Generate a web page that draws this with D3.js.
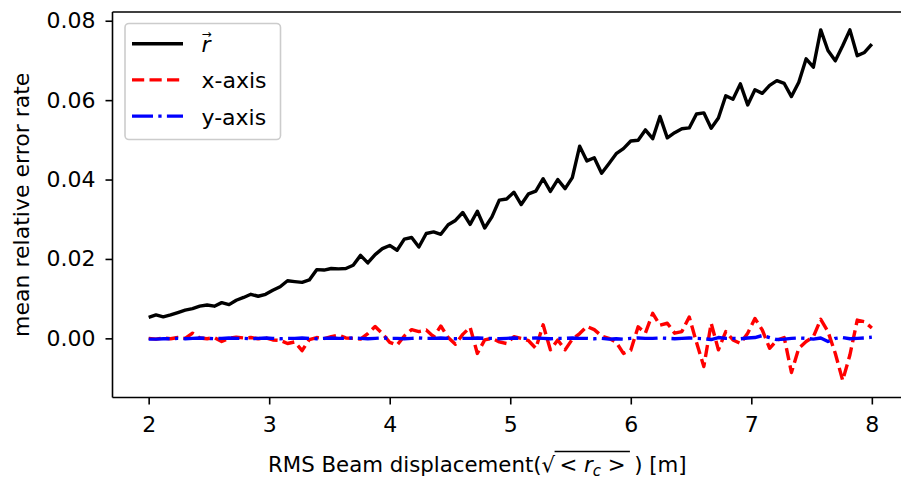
<!DOCTYPE html>
<meta charset="utf-8">
<style>
    body {
        margin: 0;
        background: #fff;
    }
    svg {
        font-family: "DejaVu Sans", sans-serif;
    }
    .tick text {
        font-size: 22px;
        fill: #000;
    }
    .tick line {
        stroke: #000;
        stroke-width: 1.6px;
    }
    .spine {
        stroke: #000;
        stroke-width: 1.6px;
    }
</style>

<body>
    <script src="https://d3js.org/d3.v7.min.js"></script>
    <script>
        // displacement grid (100 samples, 2 .. 8)
        var displacement = [
            2.000, 2.061, 2.121, 2.182, 2.242, 2.303, 2.364, 2.424, 2.485, 2.545,
            2.606, 2.667, 2.727, 2.788, 2.848, 2.909, 2.970, 3.030, 3.091, 3.152,
            3.212, 3.273, 3.333, 3.394, 3.455, 3.515, 3.576, 3.636, 3.697, 3.758,
            3.818, 3.879, 3.939, 4.000, 4.061, 4.121, 4.182, 4.242, 4.303, 4.364,
            4.424, 4.485, 4.545, 4.606, 4.667, 4.727, 4.788, 4.848, 4.909, 4.970,
            5.030, 5.091, 5.152, 5.212, 5.273, 5.333, 5.394, 5.455, 5.515, 5.576,
            5.636, 5.697, 5.758, 5.818, 5.879, 5.939, 6.000, 6.061, 6.121, 6.182,
            6.242, 6.303, 6.364, 6.424, 6.485, 6.545, 6.606, 6.667, 6.727, 6.788,
            6.848, 6.909, 6.970, 7.030, 7.091, 7.152, 7.212, 7.273, 7.333, 7.394,
            7.455, 7.515, 7.576, 7.636, 7.697, 7.758, 7.818, 7.879, 7.939, 8.000
        ];
        var errR = [
            0.0053, 0.0059, 0.0054, 0.0059, 0.0065, 0.0071, 0.0075, 0.0081, 0.0084, 0.0081,
            0.0090, 0.0085, 0.0096, 0.0103, 0.0111, 0.0106, 0.0111, 0.0121, 0.0130, 0.0145,
            0.0143, 0.0141, 0.0147, 0.0173, 0.0172, 0.0176, 0.0175, 0.0176, 0.0184, 0.0209,
            0.0190, 0.0211, 0.0226, 0.0234, 0.0222, 0.0250, 0.0254, 0.0230, 0.0264, 0.0268,
            0.0262, 0.0286, 0.0297, 0.0317, 0.0287, 0.0320, 0.0278, 0.0306, 0.0348, 0.0351,
            0.0368, 0.0337, 0.0364, 0.0371, 0.0402, 0.0370, 0.0400, 0.0377, 0.0405, 0.0484,
            0.0447, 0.0455, 0.0416, 0.0440, 0.0465, 0.0478, 0.0497, 0.0499, 0.0525, 0.0503,
            0.0559, 0.0505, 0.0518, 0.0528, 0.0530, 0.0565, 0.0568, 0.0529, 0.0555, 0.0611,
            0.0602, 0.0641, 0.0588, 0.0626, 0.0617, 0.0637, 0.0649, 0.0642, 0.0609, 0.0645,
            0.0704, 0.0683, 0.0777, 0.0725, 0.0699, 0.0737, 0.0777, 0.0712, 0.0720, 0.0741
        ];
        var errX = [
            0.0000, -0.0002, 0.0001, -0.0001, 0.0002, 0.0000, 0.0013, 0.0001, -0.0001, 0.0002,
            -0.0008, 0.0000, 0.0003, 0.0001, 0.0002, -0.0001, 0.0001, -0.0004, -0.0005, -0.0013,
            -0.0009, -0.0031, -0.0003, 0.0002, -0.0001, 0.0004, 0.0008, 0.0001, 0.0000, -0.0002,
            0.0012, 0.0030, 0.0012, -0.0010, -0.0017, 0.0006, 0.0022, 0.0017, 0.0021, 0.0004,
            0.0031, 0.0002, -0.0015, 0.0010, 0.0028, -0.0038, -0.0004, 0.0000, -0.0009, -0.0013,
            0.0004, 0.0000, -0.0006, -0.0025, 0.0034, -0.0029, -0.0004, -0.0029, -0.0002, 0.0012,
            0.0030, 0.0022, 0.0006, 0.0000, -0.0010, -0.0038, -0.0030, 0.0029, 0.0013, 0.0063,
            0.0033, 0.0038, 0.0013, 0.0017, 0.0054, -0.0010, -0.0071, 0.0038, -0.0029, 0.0017,
            -0.0004, -0.0013, 0.0013, 0.0050, 0.0021, -0.0025, -0.0005, 0.0002, -0.0086, -0.0025,
            -0.0008, 0.0004, 0.0048, 0.0017, -0.0038, -0.0106, -0.0042, 0.0046, 0.0042, 0.0026
        ];
        var errY = [
            -0.0002, -0.0002, -0.0001, -0.0001, 0.0000, -0.0001, 0.0000, 0.0001, 0.0000, -0.0001,
            0.0000, 0.0001, 0.0000, 0.0000, -0.0001, 0.0000, 0.0001, 0.0000, -0.0001, 0.0000,
            0.0000, 0.0001, 0.0000, -0.0001, 0.0000, 0.0001, 0.0000, 0.0000, 0.0001, 0.0000,
            -0.0001, 0.0000, 0.0001, 0.0000, 0.0000, -0.0001, 0.0000, 0.0001, 0.0000, 0.0000,
            0.0001, 0.0000, -0.0001, 0.0000, 0.0000, 0.0001, 0.0000, 0.0000, -0.0001, 0.0000,
            0.0001, 0.0000, 0.0000, 0.0001, 0.0000, -0.0001, 0.0000, 0.0000, 0.0001, 0.0000,
            0.0000, -0.0001, 0.0000, -0.0002, -0.0001, -0.0002, 0.0000, 0.0001, 0.0000, 0.0000,
            0.0001, 0.0000, -0.0001, 0.0000, 0.0001, 0.0000, -0.0001, -0.0003, 0.0002, 0.0000,
            0.0000, -0.0001, 0.0001, 0.0002, 0.0007, 0.0002, -0.0003, -0.0002, 0.0000, 0.0001,
            0.0000, -0.0002, 0.0001, -0.0008, 0.0000, 0.0002, -0.0001, 0.0000, 0.0001, 0.0003
        ];
        var xTicks = [2, 3, 4, 5, 6, 7, 8];
        var yTicks = [0.00, 0.02, 0.04, 0.06, 0.08];
        var seriesNames = ["r", "x-axis", "y-axis"];

        var width = 901,
            height = 478;
        var plotLeft = 112.5, plotTop = 12, plotBottom = 397.5;

        var svg = d3.select('body').append('svg')
            .attr('width', width)
            .attr('height', height);

        var x = d3.scaleLinear().domain([1.7, 8.3]).range([plotLeft, 908]);
        var y = d3.scaleLinear().domain([-0.0149, 0.0822]).range([plotBottom, plotTop]);

        var lw = 3.4;
        var series = [
            { name: seriesNames[0], values: errR, color: '#000000', dash: null },
            { name: seriesNames[1], values: errX, color: '#ff0000', dash: '12.2,5.3' },
            { name: seriesNames[2], values: errY, color: '#0000ff', dash: '21,5.3,3.3,5.3' }
        ];

        var line = d3.line()
            .x(function (d) { return x(d[0]); })
            .y(function (d) { return y(d[1]); });

        svg.selectAll('.series')
            .data(series)
            .enter().append('path')
            .attr('class', 'series')
            .attr('fill', 'none')
            .attr('stroke', function (d) { return d.color; })
            .attr('stroke-width', lw)
            .attr('stroke-linejoin', 'round')
            .attr('stroke-dasharray', function (d) { return d.dash; })
            .attr('d', function (d) {
                return line(d.values.map(function (v, i) { return [displacement[i], v]; }));
            });

        // axes
        var xAxis = svg.append('g')
            .attr('transform', 'translate(0,' + plotBottom + ')')
            .call(d3.axisBottom(x).tickValues(xTicks).tickFormat(d3.format('d'))
                .tickSize(7).tickPadding(12));
        var yAxis = svg.append('g')
            .attr('transform', 'translate(' + plotLeft + ',0)')
            .call(d3.axisLeft(y).tickValues(yTicks).tickFormat(d3.format('.2f'))
                .tickSize(7).tickPadding(10));
        xAxis.select('.domain').remove();
        yAxis.select('.domain').remove();
        svg.selectAll('.tick text').attr('font-family', 'DejaVu Sans');

        // spines
        svg.append('line').attr('class', 'spine')
            .attr('x1', plotLeft).attr('x2', plotLeft).attr('y1', plotTop).attr('y2', plotBottom);
        svg.append('line').attr('class', 'spine')
            .attr('x1', plotLeft).attr('x2', width).attr('y1', plotBottom).attr('y2', plotBottom);
        svg.append('line').attr('class', 'spine')
            .attr('x1', plotLeft).attr('x2', width).attr('y1', plotTop).attr('y2', plotTop);

        // y label
        svg.append('text')
            .attr('transform', 'translate(28.5,' + ((plotTop + plotBottom) / 2) + ') rotate(-90)')
            .attr('text-anchor', 'middle')
            .attr('font-size', 22)
            .text('mean relative error rate');

        // x label with sqrt(<r_c>)
        var xl = svg.append('text')
            .attr('x', 268)
            .attr('y', 471.5)
            .attr('font-size', 21.3);
        xl.append('tspan').text('RMS Beam displacement(');
        var rad = xl.append('tspan').text('\u221A');
        xl.append('tspan').text('\u2009< ');
        xl.append('tspan').attr('font-style', 'italic').text('r');
        xl.append('tspan').attr('font-style', 'italic').attr('font-size', 15).attr('dy', 4).text('c');
        var closing = xl.append('tspan').attr('dy', -4).text(' >\u2009');
        xl.append('tspan').text('\u2009) [m]');
        var rb = rad.node().getBBox(), cb = closing.node().getBBox();
        svg.append('line')
            .attr('x1', rb.x + rb.width - 1).attr('x2', cb.x + cb.width)
            .attr('y1', 451.5).attr('y2', 451.5)
            .attr('stroke', '#000').attr('stroke-width', 1.4);

        // legend
        var legend = svg.append('g');
        legend.append('rect')
            .attr('x', 125).attr('y', 23.5)
            .attr('width', 155.5).attr('height', 116)
            .attr('rx', 4)
            .attr('fill', '#fff').attr('fill-opacity', 0.8)
            .attr('stroke', '#cccccc').attr('stroke-width', 1.6);
        var rows = legend.selectAll('.row')
            .data(series)
            .enter().append('g')
            .attr('class', 'row')
            .attr('transform', function (d, i) { return 'translate(0,' + (43.7 + i * 36.2) + ')'; });
        rows.append('line')
            .attr('x1', 132).attr('x2', 183)
            .attr('stroke', function (d) { return d.color; })
            .attr('stroke-width', lw)
            .attr('stroke-dasharray', function (d) { return d.dash; });
        var labels = rows.append('text')
            .attr('x', 201.5).attr('y', 8.5)
            .attr('font-size', 22);
        labels.append('tspan')
            .attr('font-style', function (d, i) { return i === 0 ? 'italic' : null; })
            .text(function (d) { return d.name; });
        // vector arrow over r
        labels.filter(function (d, i) { return i === 0; })
            .append('tspan')
            .attr('dx', -9).attr('dy', -14.5)
            .attr('font-size', 12)
            .text('\u2192');
    </script>
</body>
